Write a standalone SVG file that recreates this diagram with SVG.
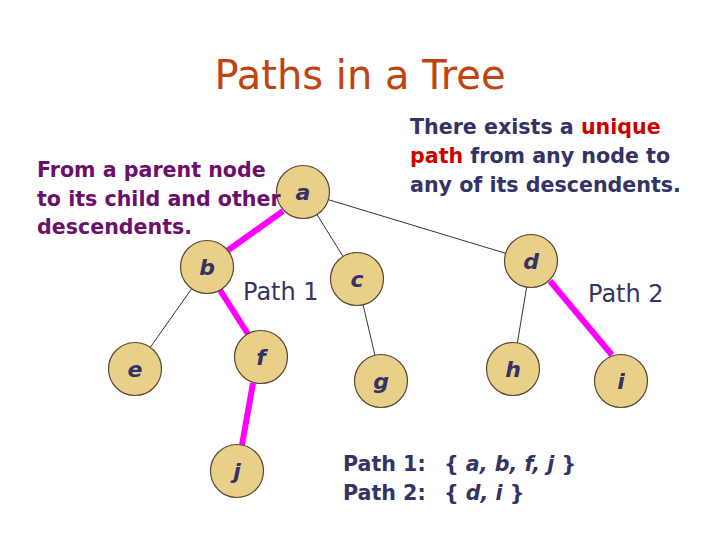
<svg xmlns="http://www.w3.org/2000/svg" width="720" height="540" viewBox="0 0 720 540">
<style>
.node circle{fill:#E8D088;stroke:#5a4636;stroke-width:1.2}
.node text{font-family:"DejaVu Sans",Verdana,sans-serif;font-weight:bold;font-style:italic;font-size:22px;fill:#333366;text-anchor:middle}
.thin{stroke:#333;stroke-width:1;fill:none}
.path{stroke:#FF00FF;stroke-width:6;fill:none}
.lbl{font-family:"DejaVu Sans",Verdana,sans-serif;font-size:24px;fill:#333366}
.bold{font-family:"DejaVu Sans",Verdana,sans-serif;font-weight:bold;font-size:20.6px}
</style>
<rect width="720" height="540" fill="#fff"/>
<text x="360" y="89" text-anchor="middle" font-family="DejaVu Sans,Verdana,sans-serif" font-size="40" fill="#C0440F">Paths in a Tree</text>
<g id="text-right" class="bold" fill="#333366">
<text x="410" y="134">There exists a <tspan fill="#CC0000">unique</tspan></text>
<text x="410" y="163"><tspan fill="#CC0000">path</tspan> from any node to</text>
<text x="410" y="192">any of its descendents.</text>
</g>
<g id="connectors">
<line class="thin" x1="303" y1="192" x2="357" y2="279"/>
<line class="thin" x1="303" y1="192" x2="531" y2="261"/>
<line class="thin" x1="207" y1="267" x2="135" y2="369"/>
<line class="thin" x1="357" y1="279" x2="381" y2="381"/>
<line class="thin" x1="531" y1="261" x2="513" y2="369"/>
<line class="path" x1="283" y1="211" x2="227" y2="251"/>
<line class="path" x1="220" y1="290" x2="248" y2="334"/>
<line class="path" x1="253" y1="383" x2="242" y2="445"/>
<line class="path" x1="550" y1="281" x2="612" y2="355"/>
</g>
<g id="node-a" class="node"><circle cx="303" cy="192" r="26.5"/><text x="303" y="200">a</text></g>
<g id="node-b" class="node"><circle cx="207" cy="267" r="26.5"/><text x="207" y="275">b</text></g>
<g id="node-c" class="node"><circle cx="357" cy="279" r="26.5"/><text x="357" y="287">c</text></g>
<g id="node-d" class="node"><circle cx="531" cy="261" r="26.5"/><text x="531" y="269">d</text></g>
<g id="node-e" class="node"><circle cx="135" cy="369" r="26.5"/><text x="135" y="377">e</text></g>
<g id="node-f" class="node"><circle cx="261" cy="357" r="26.5"/><text x="261" y="365">f</text></g>
<g id="node-g" class="node"><circle cx="381" cy="381" r="26.5"/><text x="381" y="389">g</text></g>
<g id="node-h" class="node"><circle cx="513" cy="369" r="26.5"/><text x="513" y="377">h</text></g>
<g id="node-i" class="node"><circle cx="621" cy="381" r="26.5"/><text x="621" y="389">i</text></g>
<g id="node-j" class="node"><circle cx="237" cy="471" r="26.5"/><text x="237" y="479">j</text></g>
<g id="text-left" class="bold" fill="#6B0F6B">
<text x="37" y="177">From a parent node</text>
<text x="37" y="206">to its child and other</text>
<text x="37" y="234">descendents.</text>
</g>
<text class="lbl" x="243" y="300">Path 1</text>
<text class="lbl" x="588" y="302">Path 2</text>
<g id="summary" class="bold" fill="#333366">
<text x="343" y="471">Path 1:</text>
<text x="444" y="471">{ <tspan font-style="italic">a, b, f, j </tspan>}</text>
<text x="343" y="500">Path 2:</text>
<text x="444" y="500">{ <tspan font-style="italic">d, i </tspan>}</text>
</g>
</svg>
